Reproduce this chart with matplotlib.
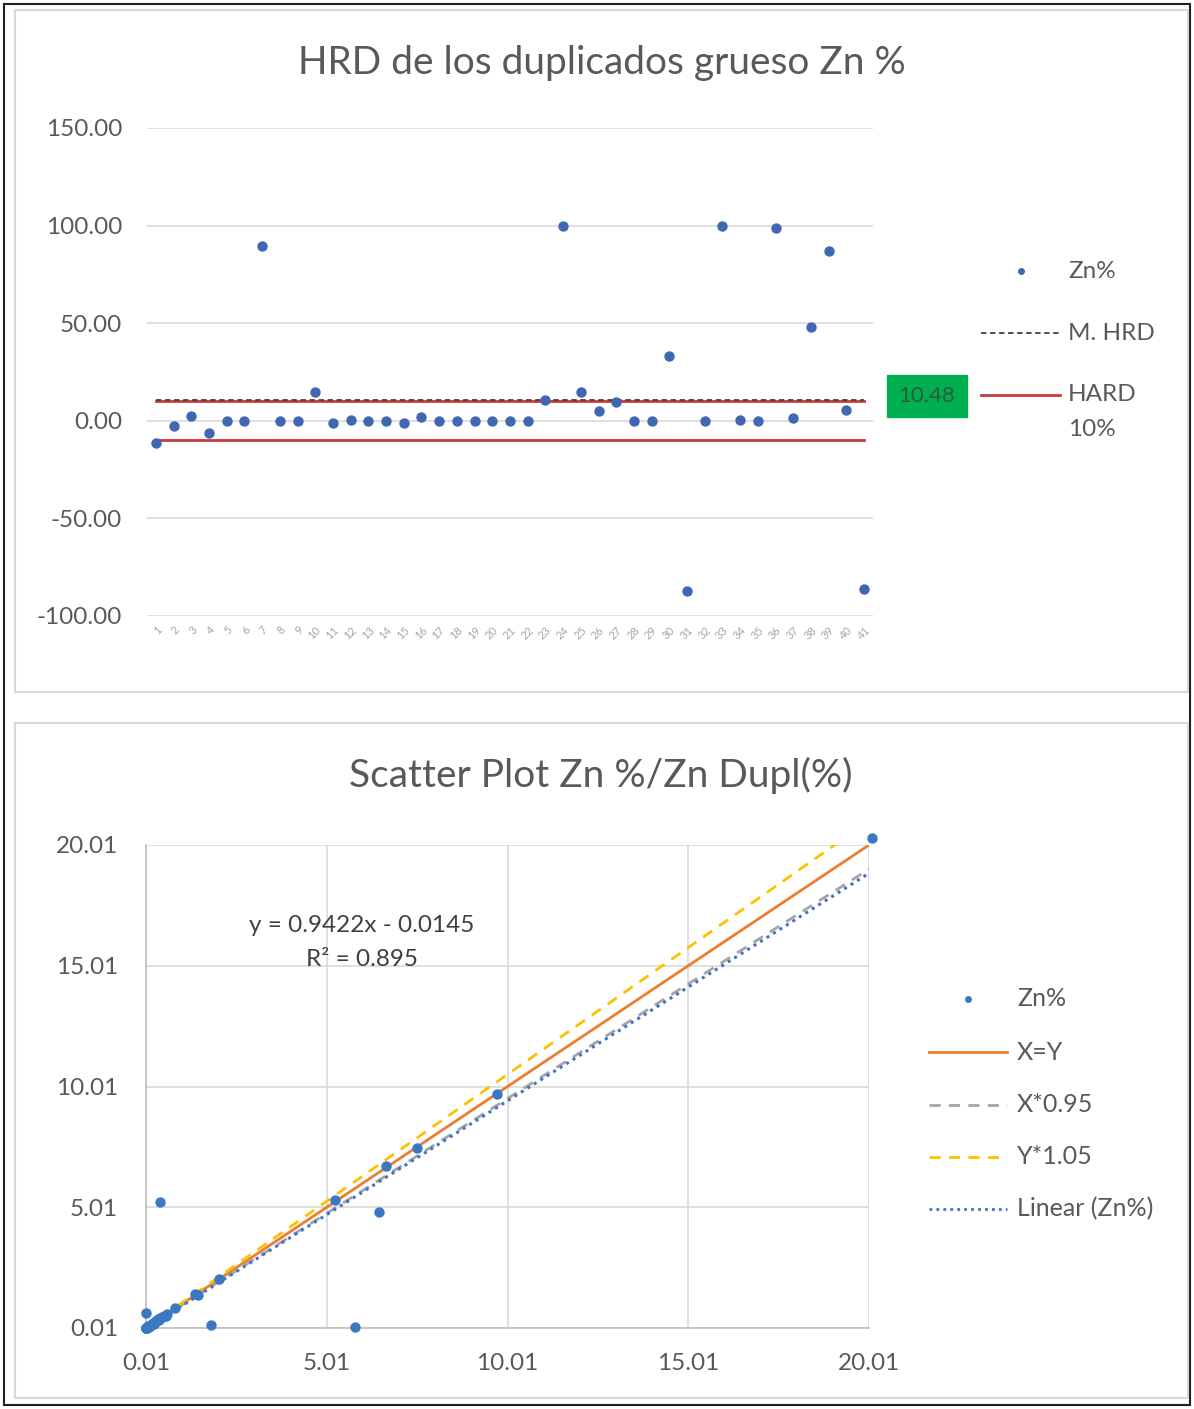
# HRD de duplicados gruesos Zn y diagrama de dispersion

import numpy as np
import matplotlib.pyplot as plt
from matplotlib.lines import Line2D
from matplotlib.patches import Rectangle

plt.rcParams['font.family'] = ['Lato', 'DejaVu Sans']

# Datos grafico 1 (HRD por muestra)

muestras = [str(i) for i in range(1, 42)]
hrd_zn = [-11.4, -2.6, 2.6, -6.0, 0.0, 0.0, 89.4, 0.0, 0.0, 15.0,
          -1.0, 0.5, 0.0, 0.0, -1.0, 2.0, 0.0, 0.0, 0.0, 0.0,
          0.0, 0.0, 10.8, 100.0, 14.5, 4.8, 9.6, 0.0, 0.0, 33.3,
          -87.2, 0.0, 100.0, 0.5, 0.0, 99.0, 1.2, 47.8, 86.8, 5.3, -86.2]
m_hrd = 10.48
hard_lim = 10

# Datos grafico 2 (Zn % vs Zn duplicado %)

zn = [20.10, 9.71, 7.50, 6.65, 6.46, 5.24, 5.79, 0.40, 1.80, 0.01,
      0.81, 1.37, 1.45, 2.04,
      0.01, 0.01, 0.01, 0.02, 0.03, 0.01, 0.05, 0.06, 0.08, 0.10,
      0.12, 0.14, 0.15, 0.18, 0.20, 0.22, 0.25, 0.28, 0.30, 0.33,
      0.35, 0.38, 0.40, 0.45, 0.50, 0.55, 0.60]
zn_dupl = [20.30, 9.70, 7.45, 6.72, 4.83, 5.31, 0.06, 5.24, 0.15, 0.63,
           0.83, 1.42, 1.38, 2.03,
           0.01, 0.01, 0.01, 0.02, 0.01, 0.03, 0.04, 0.08, 0.06, 0.10,
           0.11, 0.15, 0.13, 0.17, 0.20, 0.19, 0.25, 0.30, 0.28, 0.33,
           0.38, 0.36, 0.42, 0.45, 0.52, 0.50, 0.58]
pend = 0.9422
inter = -0.0145
r2 = 0.895
ticks_sc = [0.01, 5.01, 10.01, 15.01, 20.01]

gris = '#595959'
azul1 = '#4068b0'
azul2 = '#3a78c2'
rojo = '#c43c3c'

W, H = 1194, 1409
def fx(x):
    return x / W
def fy(y):
    return 1 - y / H

fig = plt.figure(figsize=(W / 100, H / 100), dpi=100)

# Marcos
fig.patches.append(Rectangle((fx(4), fy(1405)), fx(1186), 1401 / H, transform=fig.transFigure,
                             fill=False, ec='#202020', lw=1.5))
fig.patches.append(Rectangle((fx(15), fy(692)), fx(1173), 682 / H, transform=fig.transFigure,
                             fill=False, ec='#d9d9d9', lw=1.5))
fig.patches.append(Rectangle((fx(15), fy(1398)), fx(1173), 675 / H, transform=fig.transFigure,
                             fill=False, ec='#d9d9d9', lw=1.5))

# Grafica 1

ax1 = fig.add_axes([fx(147), fy(616), fx(726), 488 / H])
x = np.arange(len(muestras))
ax1.plot(x, [hard_lim] * len(x), color=rojo, lw=2, zorder=2)
ax1.plot(x, [-hard_lim] * len(x), color=rojo, lw=2, zorder=2)
ax1.plot(x, [m_hrd] * len(x), color='#5a3a2a', lw=1.3, ls=(0, (3, 2)), zorder=3)
ax1.scatter(x, hrd_zn, s=42, color=azul1, zorder=4, clip_on=False)

ax1.set_xlim(-0.5, len(x) - 0.5)
ax1.set_ylim(-100, 150)
ax1.set_yticks([-100, -50, 0, 50, 100, 150])
ax1.set_yticklabels(['%.2f' % v for v in [-100, -50, 0, 50, 100, 150]])
ax1.set_xticks(x)
ax1.set_xticklabels(muestras, rotation=45, ha='right', rotation_mode='anchor')
ax1.tick_params(axis='y', length=0, pad=18, labelsize=17.5, labelcolor=gris)
ax1.tick_params(axis='x', length=0, pad=6, labelsize=8, labelcolor='#a6a6a6')
ax1.grid(axis='y', color='#d9d9d9', lw=1.2)
ax1.set_axisbelow(True)
for s in ax1.spines.values():
    s.set_visible(False)

fig.text(fx(602), fy(63), 'HRD de los duplicados grueso Zn %', ha='center', va='center',
         fontsize=28, color=gris)

# Leyenda grafica 1
fig.lines.append(Line2D([fx(1021)], [fy(271)], transform=fig.transFigure, marker='o',
                        ms=4, color=azul1, ls='none'))
fig.text(fx(1068), fy(272), 'Zn%', va='center', fontsize=17.5, color=gris)
fig.lines.append(Line2D([fx(981), fx(1060)], [fy(333), fy(333)], transform=fig.transFigure,
                        color='#404040', lw=1.3, ls=(0, (3, 2))))
fig.text(fx(1068), fy(333), 'M. HRD', va='center', fontsize=17.5, color=gris)
fig.lines.append(Line2D([fx(981), fx(1060)], [fy(395), fy(395)], transform=fig.transFigure,
                        color=rojo, lw=2))
fig.text(fx(1068), fy(395), 'HARD', va='center', fontsize=17.5, color=gris)
fig.text(fx(1068), fy(430), '10%', va='center', fontsize=17.5, color=gris)
fig.text(fx(927), fy(396), '%.2f' % m_hrd, ha='center', va='center', fontsize=16,
         color='#2d5a3a',
         bbox=dict(boxstyle='square,pad=0.5', fc='#00b050', ec='#00b050'))

# Grafica 2

ax2 = fig.add_axes([fx(146), fy(1328), fx(723), 483 / H])
xs = np.sort(np.array(zn))
ax2.plot(xs, xs, color='#ed7d31', lw=2, zorder=2)
ax2.plot(xs, xs * 0.95, color='#a5a5a5', lw=2, ls=(0, (4, 3)), zorder=2)
ax2.plot(xs, xs * 1.05, color='#ffc000', lw=2, ls=(0, (4, 3)), zorder=2)
xt = np.array([min(zn), max(zn)])
ax2.plot(xt, pend * xt + inter, color='#4472c4', lw=2.2, ls=(0, (1, 1.5)), zorder=3)
ax2.scatter(zn, zn_dupl, s=42, color=azul2, zorder=4, clip_on=False)

ax2.set_xlim(0.01, 20.01)
ax2.set_ylim(0.01, 20.01)
ax2.set_xticks(ticks_sc)
ax2.set_yticks(ticks_sc)
ax2.set_xticklabels(['%.2f' % v for v in ticks_sc])
ax2.set_yticklabels(['%.2f' % v for v in ticks_sc])
ax2.tick_params(length=0, labelsize=17.5, labelcolor=gris)
ax2.tick_params(axis='y', pad=20)
ax2.tick_params(axis='x', pad=18)
ax2.grid(color='#d9d9d9', lw=1.2)
ax2.set_axisbelow(True)
for s in ['top', 'right']:
    ax2.spines[s].set_visible(False)
for s in ['left', 'bottom']:
    ax2.spines[s].set_color('#bfbfbf')
    ax2.spines[s].set_linewidth(1.2)

fig.text(fx(601), fy(775), 'Scatter Plot Zn %/Zn Dupl(%)', ha='center', va='center',
         fontsize=28, color=gris)
fig.text(fx(362), fy(926), 'y = %.4fx - %.4f' % (pend, -inter), ha='center', va='center',
         fontsize=17.5, color='#404040')
fig.text(fx(362), fy(960), 'R² = %.3f' % r2, ha='center', va='center',
         fontsize=17.5, color='#404040')

# Leyenda grafica 2
fig.lines.append(Line2D([fx(968)], [fy(999)], transform=fig.transFigure, marker='o',
                        ms=4, color=azul2, ls='none'))
fig.text(fx(1017), fy(999), 'Zn%', va='center', fontsize=18, color=gris)
estilos = [('#ed7d31', '-', 'X=Y', 1052), ('#a5a5a5', (0, (4, 3)), 'X*0.95', 1105),
           ('#ffc000', (0, (4, 3)), 'Y*1.05', 1157), ('#4472c4', (0, (1, 1.5)), 'Linear (Zn%)', 1209)]
for c, ls, lab, yy in estilos:
    fig.lines.append(Line2D([fx(929), fx(1007)], [fy(yy), fy(yy)], transform=fig.transFigure,
                            color=c, lw=2, ls=ls))
    fig.text(fx(1017), fy(yy), lab, va='center', fontsize=18, color=gris)

fig.savefig('out.png')
